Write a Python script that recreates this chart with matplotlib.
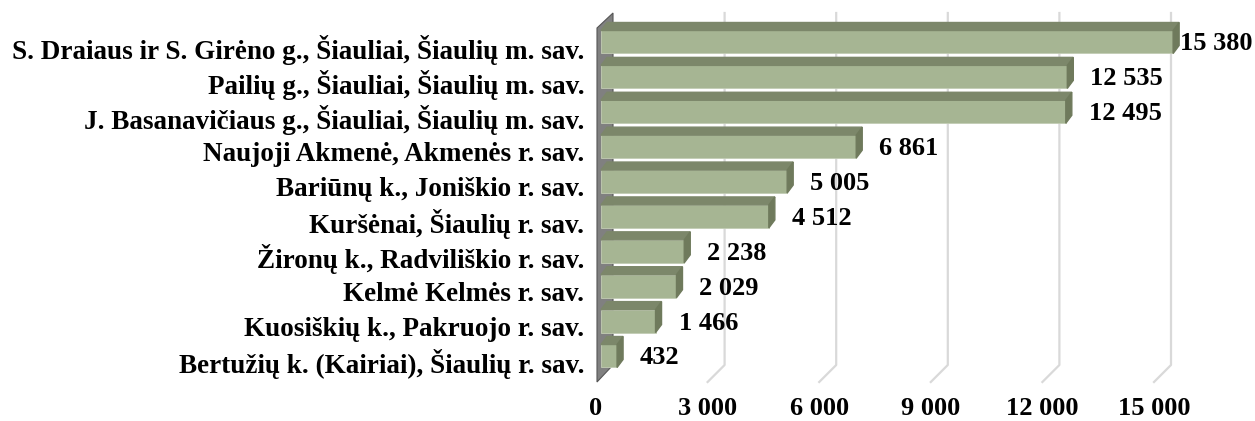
import numpy as np
import matplotlib
matplotlib.use("Agg")
import matplotlib.pyplot as plt
from matplotlib.transforms import ScaledTranslation

plt.rcParams["font.family"] = ["Liberation Serif", "DejaVu Serif"]
plt.rcParams["font.weight"] = "bold"

places = [
    "S. Draiaus ir S. Girėno g., Šiauliai, Šiaulių m. sav.",
    "Pailių g., Šiauliai, Šiaulių m. sav.",
    "J. Basanavičiaus g., Šiauliai, Šiaulių m. sav.",
    "Naujoji Akmenė, Akmenės r. sav.",
    "Bariūnų k., Joniškio r. sav.",
    "Kuršėnai, Šiaulių r. sav.",
    "Žironų k., Radviliškio r. sav.",
    "Kelmė Kelmės r. sav.",
    "Kuosiškių k., Pakruojo r. sav.",
    "Bertužių k. (Kairiai), Šiaulių r. sav.",
]
counts = [15380, 12535, 12495, 6861, 5005, 4512, 2238, 2029, 1466, 432]
x_ticks = [0, 3000, 6000, 9000, 12000, 15000]


def fmt(v):
    return f"{v:,}".replace(",", " ")


W, H = 1255, 421
fig = plt.figure(figsize=(W / 100, H / 100), dpi=100)

# front plane of the 3d box, in pixels
left_px, right_px, top_px, bot_px = 601, 1159, 28, 380
ax = fig.add_axes([left_px / W, 1 - bot_px / H,
                   (right_px - left_px) / W, (bot_px - top_px) / H])
x_max = 15000
y_top, y_bot = -0.401, 9.688
ax.set_xlim(0, x_max)
ax.set_ylim(y_bot, y_top)

sx = (right_px - left_px) / x_max          # px per value unit
sy = (bot_px - top_px) / (y_bot - y_top)   # px per category


def off(x, y, dx, dy):
    # shift a data point by dx px right and dy px up
    return x + dx / sx, y - dy / sy


depth_x, depth_y = 12, 15   # box depth
bar_dx, bar_dy = 6, 8       # bar depth
h = 23 / sy

# left wall
pts = [off(0, y_bot, -4, -2), off(0, y_top, -4, 0),
       off(0, y_top, depth_x, depth_y), off(0, y_bot, depth_x, depth_y)]
ax.fill(*zip(*pts), color="#808080", ec="#555555", lw=0.8, clip_on=False, zorder=1)

# gridlines on back wall + floor
for t in x_ticks[1:]:
    p0 = off(t, y_top, depth_x, depth_y)
    p1 = off(t, y_bot, depth_x, depth_y)
    p2 = off(t, y_bot, -5, -2)
    ax.plot([p0[0], p1[0], p2[0]], [p0[1], p1[1], p2[1]],
            color="#d9d9d9", lw=1.6, clip_on=False, zorder=0.5)

front_c, top_c, side_c = "#a6b593", "#7c876a", "#6f7a5c"
ys = np.arange(len(counts))
bars = ax.barh(ys, counts, height=h, color=front_c, edgecolor="#c2ccb4", lw=0.6, zorder=3)
for b in bars:
    b.set_clip_on(False)
for y, v in zip(ys, counts):
    ytop = y - h / 2
    ybot = y + h / 2
    top = [(0, ytop), (v, ytop), off(v, ytop, bar_dx, bar_dy), off(0, ytop, bar_dx, bar_dy)]
    side = [(v, ytop), (v, ybot), off(v, ybot, bar_dx, bar_dy), off(v, ytop, bar_dx, bar_dy)]
    ax.fill(*zip(*top), color=top_c, clip_on=False, zorder=3)
    ax.fill(*zip(*side), color=side_c, clip_on=False, zorder=3)

# value labels
labels = []
for y, v in zip(ys, counts):
    tx, ty = off(v, y, 23, -2)
    labels.append(ax.text(tx, ty, fmt(v), fontsize=19, fontweight="bold",
                          va="center", ha="left", clip_on=False, zorder=5))
fig.canvas.draw()
r = fig.canvas.get_renderer()
for t in labels:
    bb = t.get_window_extent(r)
    if bb.x1 > W - 3:
        x, y = t.get_position()
        t.set_position((x - (bb.x1 - (W - 3)) / sx, y))

ax.set_yticks(ys)
ax.set_yticklabels(places, fontsize=19.5, fontweight="bold")
ax.set_xticks(x_ticks)
ax.set_xticklabels([fmt(t) for t in x_ticks], fontsize=19, fontweight="bold")
ax.tick_params(axis="y", length=0, pad=12)
ax.tick_params(axis="x", length=0, pad=12)
for lbl in ax.get_xticklabels():
    lbl.set_transform(lbl.get_transform() + ScaledTranslation(-5 / 100, 0, fig.dpi_scale_trans))
for lbl in ax.get_yticklabels():
    lbl.set_transform(lbl.get_transform() + ScaledTranslation(0, -5 / 100, fig.dpi_scale_trans))
for s in ax.spines.values():
    s.set_visible(False)
ax.patch.set_visible(False)

fig.savefig("out.png", dpi=100)
